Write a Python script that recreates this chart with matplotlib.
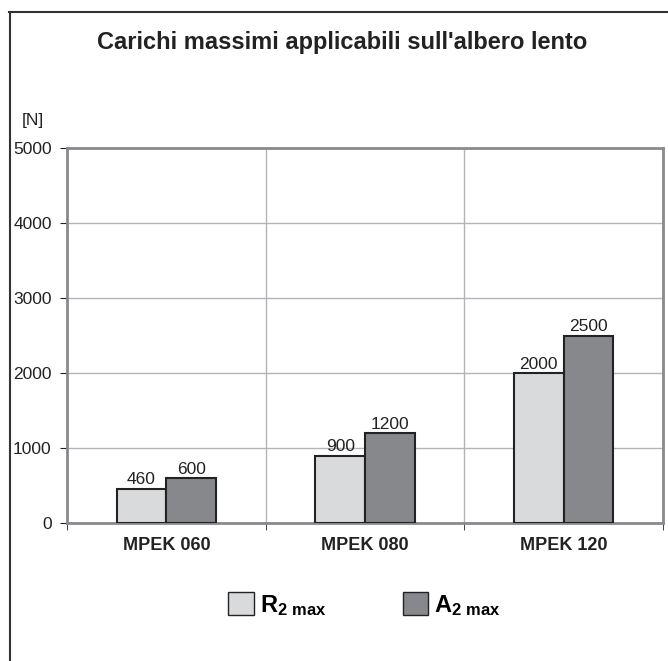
import numpy as np
import matplotlib.pyplot as plt
from matplotlib.patches import Patch
from matplotlib.lines import Line2D

plt.rcParams['font.family'] = ['Liberation Sans', 'DejaVu Sans']
plt.rcParams['mathtext.fontset'] = 'custom'
plt.rcParams['mathtext.bf'] = 'Liberation Sans:bold'
plt.rcParams['mathtext.rm'] = 'Liberation Sans'

# dati
modelli = ['MPEK 060', 'MPEK 080', 'MPEK 120']
r2_max = [460, 900, 2000]
a2_max = [600, 1200, 2500]
y_ticks = [0, 1000, 2000, 3000, 4000, 5000]

col_r = '#d9dadc'
col_a = '#87888c'
col_ax = '#8a8a8e'

fig = plt.figure(figsize=(6.68, 6.61), dpi=100)
ax = fig.add_axes([67/668, 138/661, 596/668, 375/661])

x = np.arange(len(modelli))
w = 0.25
b1 = ax.bar(x - w/2, r2_max, w, color=col_r, edgecolor='#222222', linewidth=1.5, zorder=3)
b2 = ax.bar(x + w/2, a2_max, w, color=col_a, edgecolor='#222222', linewidth=1.5, zorder=3)
ax.bar_label(b1, padding=1, fontsize=12.5, color='#222222')
ax.bar_label(b2, padding=1, fontsize=12.5, color='#222222')

ax.set_xlim(-0.5, 2.5)
ax.set_ylim(0, 5000)
ax.set_yticks(y_ticks)
ax.set_yticklabels([str(v) for v in y_ticks], fontsize=12.5, color='#222222')
ax.set_xticks(x)
ax.set_xticklabels(modelli, fontsize=13, fontweight='bold', color='#222222')
ax.tick_params(axis='x', length=0, pad=10)
ax.set_xticks(np.arange(-0.5, 3, 1), minor=True)
ax.tick_params(axis='x', which='minor', length=5, direction='out', color='#222222')
ax.tick_params(axis='y', length=5, direction='out', color='#222222', pad=6)

ax.grid(axis='y', color='#b4b4b8', linewidth=1, zorder=0)
ax.grid(axis='x', which='minor', color='#b4b4b8', linewidth=1, zorder=0)
for s in ax.spines.values():
    s.set_color(col_ax)
    s.set_linewidth(2)

fig.text(0.512, 1 - 43/661, "Carichi massimi applicabili sull'albero lento",
         ha='center', va='center', fontsize=17, fontweight='bold', color='#222222')
fig.text(33/668, 1 - 120/661, '[N]', ha='center', va='center', fontsize=12.5, color='#222222')

handles = [Patch(facecolor=col_r, edgecolor='#222222', linewidth=1),
           Patch(facecolor=col_a, edgecolor='#222222', linewidth=1)]
fig.legend(handles, [r'$\mathbf{R_{2\ max}}$', r'$\mathbf{A_{2\ max}}$'],
           loc='center', bbox_to_anchor=(0.546, 1 - 605/661), ncol=2, frameon=False,
           fontsize=17, handlelength=1.1, handleheight=1.1, handletextpad=0.25,
           columnspacing=3.2)

# cornice
fig.add_artist(Line2D([9/668, 1], [1 - 12/661, 1 - 12/661], color='#333333', linewidth=1.5))
fig.add_artist(Line2D([10/668, 10/668], [0, 1 - 12/661], color='#333333', linewidth=1.5))

fig.savefig('out.png', dpi=100)
